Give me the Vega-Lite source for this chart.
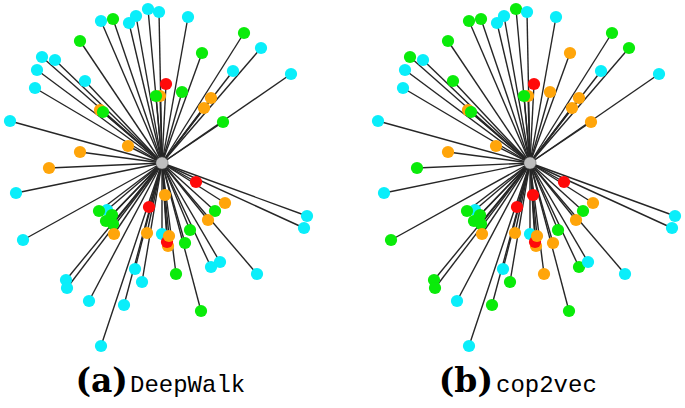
{
  "$schema": "https://vega.github.io/schema/vega-lite/v6.json",
  "width": 685,
  "height": 408,
  "autosize": {"type": "fit", "contains": "padding"},
  "padding": 0,
  "background": "white",
  "config": {"view": {"stroke": null}},
  "datasets": {
    "centers": [
      {"panel": "a", "cx": 162, "cy": 163},
      {"panel": "b", "cx": 530, "cy": 163}
    ],
    "captions": [
      {"x": 128, "y": 392, "t": "(a)", "kind": "bold"},
      {"x": 130, "y": 392, "t": "DeepWalk", "kind": "name"},
      {"x": 493, "y": 392, "t": "(b)", "kind": "bold"},
      {"x": 496, "y": 392, "t": "cop2vec", "kind": "name"}
    ],
    "nodes": [
      {"panel": "a", "x": 160, "y": 96, "c": "orange"},
      {"panel": "a", "x": 100, "y": 110, "c": "orange"},
      {"panel": "a", "x": 101, "y": 21, "c": "cyan"},
      {"panel": "a", "x": 113, "y": 19, "c": "green"},
      {"panel": "a", "x": 129, "y": 23, "c": "cyan"},
      {"panel": "a", "x": 136, "y": 16, "c": "cyan"},
      {"panel": "a", "x": 148, "y": 9, "c": "cyan"},
      {"panel": "a", "x": 159, "y": 12, "c": "cyan"},
      {"panel": "a", "x": 80, "y": 41, "c": "green"},
      {"panel": "a", "x": 42, "y": 57, "c": "cyan"},
      {"panel": "a", "x": 55, "y": 60, "c": "cyan"},
      {"panel": "a", "x": 37, "y": 70, "c": "cyan"},
      {"panel": "a", "x": 85, "y": 81, "c": "cyan"},
      {"panel": "a", "x": 35, "y": 88, "c": "cyan"},
      {"panel": "a", "x": 156, "y": 96, "c": "green"},
      {"panel": "a", "x": 166, "y": 84, "c": "red"},
      {"panel": "a", "x": 103, "y": 112, "c": "green"},
      {"panel": "a", "x": 10, "y": 121, "c": "cyan"},
      {"panel": "a", "x": 188, "y": 17, "c": "cyan"},
      {"panel": "a", "x": 244, "y": 33, "c": "green"},
      {"panel": "a", "x": 261, "y": 48, "c": "cyan"},
      {"panel": "a", "x": 202, "y": 53, "c": "green"},
      {"panel": "a", "x": 233, "y": 71, "c": "cyan"},
      {"panel": "a", "x": 291, "y": 74, "c": "cyan"},
      {"panel": "a", "x": 182, "y": 92, "c": "green"},
      {"panel": "a", "x": 211, "y": 98, "c": "orange"},
      {"panel": "a", "x": 204, "y": 108, "c": "orange"},
      {"panel": "a", "x": 223, "y": 122, "c": "green"},
      {"panel": "a", "x": 128, "y": 146, "c": "orange"},
      {"panel": "a", "x": 80, "y": 152, "c": "orange"},
      {"panel": "a", "x": 49, "y": 168, "c": "orange"},
      {"panel": "a", "x": 16, "y": 193, "c": "cyan"},
      {"panel": "a", "x": 165, "y": 195, "c": "orange"},
      {"panel": "a", "x": 149, "y": 207, "c": "red"},
      {"panel": "a", "x": 107, "y": 210, "c": "cyan"},
      {"panel": "a", "x": 99, "y": 211, "c": "green"},
      {"panel": "a", "x": 112, "y": 215, "c": "green"},
      {"panel": "a", "x": 106, "y": 221, "c": "green"},
      {"panel": "a", "x": 113, "y": 224, "c": "green"},
      {"panel": "a", "x": 114, "y": 234, "c": "orange"},
      {"panel": "a", "x": 147, "y": 233, "c": "orange"},
      {"panel": "a", "x": 162, "y": 234, "c": "cyan"},
      {"panel": "a", "x": 23, "y": 240, "c": "cyan"},
      {"panel": "a", "x": 196, "y": 182, "c": "red"},
      {"panel": "a", "x": 225, "y": 203, "c": "orange"},
      {"panel": "a", "x": 215, "y": 211, "c": "green"},
      {"panel": "a", "x": 208, "y": 220, "c": "orange"},
      {"panel": "a", "x": 307, "y": 216, "c": "cyan"},
      {"panel": "a", "x": 304, "y": 228, "c": "cyan"},
      {"panel": "a", "x": 190, "y": 230, "c": "green"},
      {"panel": "a", "x": 168, "y": 246, "c": "orange"},
      {"panel": "a", "x": 167, "y": 242, "c": "red"},
      {"panel": "a", "x": 169, "y": 236, "c": "orange"},
      {"panel": "a", "x": 185, "y": 243, "c": "green"},
      {"panel": "a", "x": 66, "y": 280, "c": "cyan"},
      {"panel": "a", "x": 67, "y": 288, "c": "cyan"},
      {"panel": "a", "x": 89, "y": 301, "c": "cyan"},
      {"panel": "a", "x": 135, "y": 269, "c": "cyan"},
      {"panel": "a", "x": 142, "y": 282, "c": "cyan"},
      {"panel": "a", "x": 124, "y": 305, "c": "cyan"},
      {"panel": "a", "x": 101, "y": 346, "c": "cyan"},
      {"panel": "a", "x": 176, "y": 274, "c": "green"},
      {"panel": "a", "x": 201, "y": 311, "c": "green"},
      {"panel": "a", "x": 211, "y": 267, "c": "cyan"},
      {"panel": "a", "x": 220, "y": 262, "c": "cyan"},
      {"panel": "a", "x": 257, "y": 274, "c": "cyan"},

      {"panel": "b", "x": 528, "y": 96, "c": "orange"},
      {"panel": "b", "x": 468, "y": 110, "c": "orange"},
      {"panel": "b", "x": 469, "y": 21, "c": "green"},
      {"panel": "b", "x": 481, "y": 19, "c": "green"},
      {"panel": "b", "x": 497, "y": 23, "c": "cyan"},
      {"panel": "b", "x": 504, "y": 16, "c": "cyan"},
      {"panel": "b", "x": 516, "y": 9, "c": "green"},
      {"panel": "b", "x": 527, "y": 12, "c": "cyan"},
      {"panel": "b", "x": 448, "y": 41, "c": "green"},
      {"panel": "b", "x": 410, "y": 57, "c": "green"},
      {"panel": "b", "x": 423, "y": 60, "c": "cyan"},
      {"panel": "b", "x": 405, "y": 70, "c": "cyan"},
      {"panel": "b", "x": 453, "y": 81, "c": "green"},
      {"panel": "b", "x": 403, "y": 88, "c": "cyan"},
      {"panel": "b", "x": 524, "y": 96, "c": "green"},
      {"panel": "b", "x": 534, "y": 84, "c": "red"},
      {"panel": "b", "x": 471, "y": 112, "c": "green"},
      {"panel": "b", "x": 378, "y": 121, "c": "cyan"},
      {"panel": "b", "x": 556, "y": 17, "c": "cyan"},
      {"panel": "b", "x": 612, "y": 33, "c": "green"},
      {"panel": "b", "x": 629, "y": 48, "c": "green"},
      {"panel": "b", "x": 570, "y": 53, "c": "orange"},
      {"panel": "b", "x": 601, "y": 71, "c": "cyan"},
      {"panel": "b", "x": 659, "y": 74, "c": "cyan"},
      {"panel": "b", "x": 550, "y": 92, "c": "orange"},
      {"panel": "b", "x": 579, "y": 98, "c": "orange"},
      {"panel": "b", "x": 572, "y": 108, "c": "orange"},
      {"panel": "b", "x": 591, "y": 122, "c": "orange"},
      {"panel": "b", "x": 496, "y": 146, "c": "orange"},
      {"panel": "b", "x": 448, "y": 152, "c": "orange"},
      {"panel": "b", "x": 417, "y": 168, "c": "green"},
      {"panel": "b", "x": 384, "y": 193, "c": "cyan"},
      {"panel": "b", "x": 533, "y": 195, "c": "red"},
      {"panel": "b", "x": 517, "y": 207, "c": "red"},
      {"panel": "b", "x": 475, "y": 210, "c": "cyan"},
      {"panel": "b", "x": 467, "y": 211, "c": "green"},
      {"panel": "b", "x": 480, "y": 215, "c": "green"},
      {"panel": "b", "x": 474, "y": 221, "c": "green"},
      {"panel": "b", "x": 481, "y": 224, "c": "green"},
      {"panel": "b", "x": 482, "y": 234, "c": "orange"},
      {"panel": "b", "x": 515, "y": 233, "c": "orange"},
      {"panel": "b", "x": 530, "y": 234, "c": "cyan"},
      {"panel": "b", "x": 391, "y": 240, "c": "green"},
      {"panel": "b", "x": 564, "y": 182, "c": "red"},
      {"panel": "b", "x": 593, "y": 203, "c": "orange"},
      {"panel": "b", "x": 583, "y": 211, "c": "green"},
      {"panel": "b", "x": 576, "y": 220, "c": "orange"},
      {"panel": "b", "x": 675, "y": 216, "c": "cyan"},
      {"panel": "b", "x": 672, "y": 228, "c": "cyan"},
      {"panel": "b", "x": 558, "y": 230, "c": "green"},
      {"panel": "b", "x": 536, "y": 246, "c": "orange"},
      {"panel": "b", "x": 535, "y": 242, "c": "red"},
      {"panel": "b", "x": 537, "y": 236, "c": "orange"},
      {"panel": "b", "x": 553, "y": 243, "c": "orange"},
      {"panel": "b", "x": 434, "y": 280, "c": "green"},
      {"panel": "b", "x": 435, "y": 288, "c": "green"},
      {"panel": "b", "x": 457, "y": 301, "c": "cyan"},
      {"panel": "b", "x": 503, "y": 269, "c": "cyan"},
      {"panel": "b", "x": 510, "y": 282, "c": "green"},
      {"panel": "b", "x": 492, "y": 305, "c": "green"},
      {"panel": "b", "x": 469, "y": 346, "c": "cyan"},
      {"panel": "b", "x": 544, "y": 274, "c": "orange"},
      {"panel": "b", "x": 569, "y": 311, "c": "green"},
      {"panel": "b", "x": 579, "y": 267, "c": "green"},
      {"panel": "b", "x": 588, "y": 262, "c": "cyan"},
      {"panel": "b", "x": 625, "y": 274, "c": "cyan"}
    ]
  },
  "layer": [
    {
      "data": {"name": "nodes"},
      "transform": [
        {"lookup": "panel", "from": {"data": {"name": "centers"}, "key": "panel", "fields": ["cx", "cy"]}}
      ],
      "mark": {"type": "rule", "color": "#262626", "strokeWidth": 1.4},
      "encoding": {
        "x": {"field": "cx", "type": "quantitative", "axis": null, "scale": {"domain": [0, 685], "nice": false, "zero": false}},
        "y": {"field": "cy", "type": "quantitative", "axis": null, "scale": {"domain": [0, 408], "reverse": true, "nice": false, "zero": false}},
        "x2": {"field": "x"},
        "y2": {"field": "y"}
      }
    },
    {
      "data": {"name": "nodes"},
      "mark": {"type": "circle", "size": 150, "opacity": 1},
      "encoding": {
        "x": {"field": "x", "type": "quantitative"},
        "y": {"field": "y", "type": "quantitative"},
        "color": {
          "field": "c", "type": "nominal", "legend": null,
          "scale": {"domain": ["cyan", "green", "orange", "red"], "range": ["#0aeefa", "#0aeb0a", "#ffa50a", "#ff0a0a"]}
        }
      }
    },
    {
      "data": {"name": "centers"},
      "mark": {"type": "circle", "size": 150, "opacity": 1, "color": "#bebebe", "stroke": "#555555", "strokeWidth": 0.5},
      "encoding": {
        "x": {"field": "cx", "type": "quantitative"},
        "y": {"field": "cy", "type": "quantitative"}
      }
    },
    {
      "data": {"name": "captions"},
      "transform": [{"filter": "datum.kind === 'bold'"}],
      "mark": {"type": "text", "align": "right", "baseline": "alphabetic", "font": "DejaVu Serif", "fontWeight": "bold", "fontSize": 33, "color": "black"},
      "encoding": {
        "x": {"field": "x", "type": "quantitative"},
        "y": {"field": "y", "type": "quantitative"},
        "text": {"field": "t"}
      }
    },
    {
      "data": {"name": "captions"},
      "transform": [{"filter": "datum.kind === 'name'"}],
      "mark": {"type": "text", "align": "left", "baseline": "alphabetic", "font": "Liberation Mono", "fontSize": 24, "color": "black"},
      "encoding": {
        "x": {"field": "x", "type": "quantitative"},
        "y": {"field": "y", "type": "quantitative"},
        "text": {"field": "t"}
      }
    }
  ]
}
